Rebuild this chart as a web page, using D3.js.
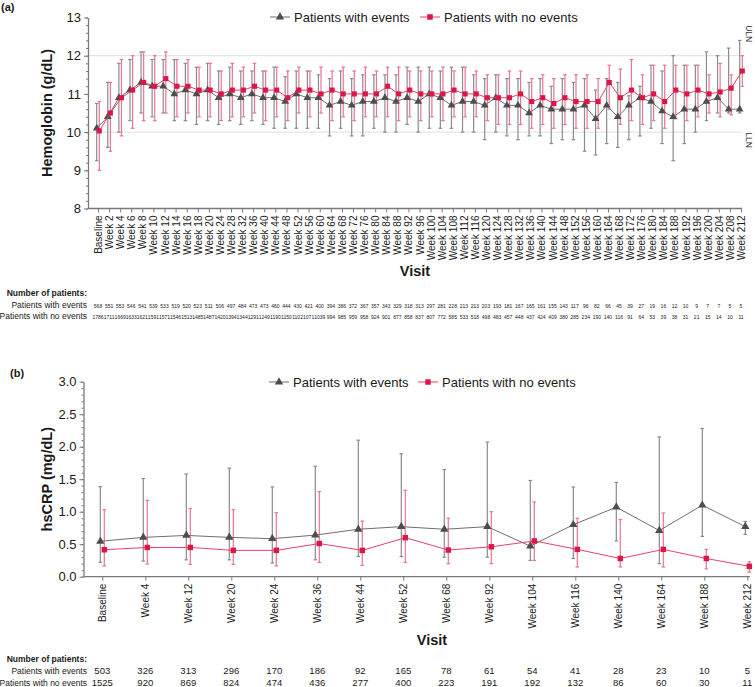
<!DOCTYPE html>
<html><head><meta charset="utf-8">
<script src="https://cdn.jsdelivr.net/npm/d3@7"></script>
<style>body{margin:0;background:#fff}svg{font-family:Arial,"Liberation Sans",sans-serif}</style>
</head><body><svg id="c" width="755" height="687"></svg>
<script>
// ---------- Panel (a): Hemoglobin ----------
const catsA = ["Baseline","Week 2","Week 4","Week 6","Week 8","Week 10","Week 12","Week 14","Week 16","Week 18","Week 20",
 "Week 24","Week 28","Week 32","Week 36","Week 40","Week 44","Week 48","Week 52","Week 56","Week 60","Week 64","Week 68",
 "Week 72","Week 76","Week 80","Week 84","Week 88","Week 92","Week 96","Week 100","Week 104","Week 108","Week 112","Week 116",
 "Week 120","Week 124","Week 128","Week 132","Week 136","Week 140","Week 144","Week 148","Week 152","Week 156","Week 160",
 "Week 164","Week 168","Week 172","Week 176","Week 180","Week 184","Week 188","Week 192","Week 196","Week 200","Week 204",
 "Week 208","Week 212"];
const hbEventsMean = [10.1,10.4,10.9,11.1,11.3,11.2,11.2,11.0,11.1,11.0,11.1,10.9,11.0,10.9,11.0,10.9,10.9,10.8,11.0,10.9,10.9,10.7,10.8,10.7,10.8,10.8,10.9,10.8,10.9,10.8,11.0,10.9,10.7,10.8,10.8,10.7,10.9,10.7,10.7,10.5,10.7,10.6,10.6,10.6,10.7,10.35,10.7,10.4,10.7,10.9,10.8,10.55,10.4,10.6,10.6,10.8,10.9,10.6,10.6];
const hbEventsHi = [10.75,11.3,11.8,11.9,12.1,11.9,11.9,11.9,11.8,11.7,11.8,11.6,11.7,11.6,11.6,11.6,11.7,11.45,11.6,11.6,11.5,11.4,11.6,11.4,11.5,11.5,11.5,11.5,11.7,11.7,11.7,11.6,11.7,11.7,11.5,11.4,11.5,11.4,11.4,11.3,11.4,11.2,11.4,11.3,11.4,11.1,11.4,11.3,10.95,11.2,11.75,11.6,12.0,11.75,11.75,12.1,12.0,12.2,12.4];
const hbEventsLo = [9.25,9.6,10.0,10.3,10.5,10.4,10.5,10.3,10.3,10.2,10.3,10.2,10.3,10.2,10.3,10.2,10.1,10.1,10.1,10.1,10.1,9.9,10.1,9.9,9.9,10.1,10.0,10.0,10.2,10.0,10.1,10.1,10.1,10.0,10.0,9.8,10.0,9.9,9.8,9.9,9.9,9.7,9.8,9.8,9.5,9.4,9.7,9.6,9.8,9.9,10.1,9.7,9.25,9.7,10.0,10.3,10.5,10.5,10.5];
const hbNoEventsMean = [10.03,10.5,10.9,11.1,11.3,11.2,11.4,11.2,11.2,11.1,11.1,11.0,11.1,11.1,11.2,11.1,11.1,10.9,11.1,11.1,11.0,11.1,11.0,11.0,11.0,11.0,11.2,11.0,11.1,11.0,11.0,11.0,11.1,11.0,11.0,10.9,10.9,10.9,11.0,10.8,10.9,10.75,10.9,10.8,10.8,10.8,11.3,10.9,11.1,10.9,11.0,10.8,11.1,11.0,11.1,11.0,11.05,11.15,11.6];
const hbNoEventsHi = [10.8,11.3,11.9,12.0,12.1,12.0,12.1,11.9,11.9,11.7,11.8,11.6,11.8,11.7,11.8,11.6,11.7,11.6,11.7,11.6,11.7,11.6,11.7,11.6,11.7,11.6,11.7,11.7,11.6,11.6,11.6,11.7,11.6,11.7,11.6,11.5,11.5,11.6,11.6,11.4,11.5,11.4,11.5,11.5,11.5,11.4,11.75,11.65,11.9,11.5,11.75,11.75,11.75,11.75,11.75,11.5,11.8,11.5,12.0];
const hbNoEventsLo = [9.0,9.5,9.9,10.1,10.3,10.3,10.5,10.4,10.5,10.4,10.4,10.3,10.4,10.4,10.5,10.3,10.4,10.3,10.5,10.4,10.5,10.3,10.4,10.3,10.4,10.4,10.4,10.3,10.4,10.3,10.4,10.3,10.4,10.4,10.4,10.3,10.2,10.2,10.2,10.1,10.2,10.1,10.2,10.1,10.1,10.1,10.6,10.2,10.3,10.2,10.3,10.1,10.35,10.3,10.4,10.5,10.4,10.45,11.2];
const nEventsA = [568,551,553,546,541,539,533,519,520,523,511,506,497,484,473,473,460,444,430,421,400,394,386,372,367,357,343,329,318,313,297,281,228,213,213,203,193,181,167,165,161,155,143,117,96,82,66,45,39,27,19,16,12,10,9,7,7,5,5];
const nNoEventsA = [1786,1711,1669,1633,1621,1591,1571,1546,1513,1485,1487,1420,1394,1344,1291,1249,1190,1150,1102,1071,1039,994,985,959,958,924,901,877,858,837,807,772,585,533,518,498,483,457,448,437,424,409,380,285,234,190,140,116,91,64,53,39,38,31,21,15,14,10,11];
const yTicksA = [8,9,10,11,12,13];
const refValuesA = [12,10];
const refLabelsA = ["ULN","LLN"];

// ---------- Panel (b): hsCRP ----------
const catsB = ["Baseline","Week 4","Week 12","Week 20","Week 24","Week 36","Week 44","Week 52","Week 68","Week 92","Week 104","Week 116","Week 140","Week 164","Week 188","Week 212"];
const crpEventsMean = [0.545,0.605,0.635,0.605,0.585,0.64,0.73,0.77,0.73,0.77,0.47,0.8,1.07,0.71,1.1,0.77];
const crpEventsHi = [1.385,1.51,1.58,1.67,1.38,1.70,2.10,1.89,1.65,2.07,1.48,1.38,1.45,2.15,2.28,0.85];
const crpEventsLo = [0.22,0.24,0.26,0.26,0.21,0.26,0.31,0.31,0.30,0.30,0.25,0.28,0.55,0.20,0.62,0.65];
const crpNoEventsMean = [0.415,0.45,0.45,0.405,0.405,0.51,0.405,0.60,0.41,0.46,0.55,0.42,0.28,0.42,0.28,0.16];
const crpNoEventsHi = [1.03,1.175,1.05,1.03,0.985,1.31,0.855,1.33,0.90,1.0,1.15,0.90,0.88,0.98,0.42,0.23];
const crpNoEventsLo = [0.165,0.195,0.19,0.19,0.165,0.22,0.175,0.22,0.20,0.20,0.25,0.15,0.15,0.15,0.12,0.07];
const nEventsB = [503,326,313,296,170,186,92,165,78,61,54,41,28,23,10,5];
const nNoEventsB = [1525,920,869,824,474,436,277,400,223,191,192,132,86,60,30,11];
const yTicksB = [0,0.5,1.0,1.5,2.0,2.5,3.0];

const seriesNames = ["Patients with events","Patients with no events"];
const rowTitle = "Number of patients:";

// ---------- styles ----------
const GRAY_LINE = "#6f6f6f", GRAY_MARK = "#4d4d4d", GRAY_BAR = "#8c8c8c";
const RED_LINE = "#e8416a", RED_MARK = "#dc1748", RED_BAR = "#eb7494";
const AXIS = "#7a7a7a", TXT = "#1a1a1a";

const svg = d3.select("#c");

function drawPanel(o) {
  const g = svg.append("g");
  const x = d3.scalePoint().domain(o.cats).range(o.xRange);
  const y = d3.scaleLinear().domain(o.yDomain).range(o.yRange);
  const x0 = o.axisX, x1 = o.axisEnd;

  // reference lines
  if (o.refs) {
    o.refs.forEach((v, i) => {
      g.append("line").attr("x1", x0).attr("x2", x1).attr("y1", y(v)).attr("y2", y(v))
        .attr("stroke", "#dedede").attr("stroke-width", 1);
      g.append("text").attr("transform", `translate(${o.refLabelX},${y(v) + (i === 0 ? -22 : 8)}) rotate(90)`)
        .attr("font-size", 8.5).attr("fill", "#333").attr("text-anchor", "middle").text(o.refLabels[i]);
    });
  }

  // y axis minor ticks
  const minor = d3.range(o.yDomain[0], o.yDomain[1] + 1e-9, o.minorStep);
  g.append("g").attr("transform", `translate(${x0},0)`)
    .call(d3.axisLeft(y).tickValues(minor).tickSize(2).tickFormat(""))
    .call(s => s.select(".domain").remove())
    .call(s => s.selectAll("line").attr("stroke", AXIS));
  // y axis major
  g.append("g").attr("transform", `translate(${x0},0)`)
    .call(d3.axisLeft(y).tickValues(o.yTicks).tickSize(4).tickSizeOuter(0).tickFormat(o.yFmt))
    .call(s => s.select(".domain").attr("stroke", AXIS).attr("stroke-width", 1.3))
    .call(s => s.selectAll("line").attr("stroke", AXIS))
    .call(s => s.selectAll("text").attr("font-size", 13).attr("fill", TXT).attr("font-family", "Arial, Liberation Sans"));

  // x axis
  const ya = o.yRange[0];
  g.append("line").attr("x1", x0).attr("x2", x1).attr("y1", ya).attr("y2", ya)
    .attr("stroke", AXIS).attr("stroke-width", 1.3);
  g.append("g").attr("transform", `translate(0,${ya})`)
    .call(d3.axisBottom(x).tickSize(4).tickSizeOuter(0))
    .call(s => s.select(".domain").remove())
    .call(s => s.selectAll("line").attr("stroke", AXIS))
    .call(s => s.selectAll("text").attr("font-size", o.xFont).attr("fill", TXT)
      .attr("font-family", "Arial, Liberation Sans")
      .attr("transform", "rotate(-90)").attr("x", -7).attr("y", 0).attr("dy", "0.35em")
      .style("text-anchor", "end"));

  // series
  const ser = [
    {mean: o.evMean, hi: o.evHi, lo: o.evLo, dx: -o.off, line: GRAY_LINE, mark: GRAY_MARK, bar: GRAY_BAR, sym: d3.symbolTriangle},
    {mean: o.noMean, hi: o.noHi, lo: o.noLo, dx: o.off, line: RED_LINE, mark: RED_MARK, bar: RED_BAR, sym: d3.symbolSquare}
  ];
  ser.forEach(s => {
    const data = o.cats.map((c, i) => ({c, m: s.mean[i], hi: s.hi[i], lo: s.lo[i]}));
    const eb = g.append("g");
    data.forEach(d => {
      const xx = x(d.c) + s.dx;
      eb.append("line").attr("x1", xx).attr("x2", xx).attr("y1", y(d.lo)).attr("y2", y(d.hi))
        .attr("stroke", s.bar).attr("stroke-width", 1.2);
      [d.lo, d.hi].forEach(v => eb.append("line").attr("x1", xx - 1.8).attr("x2", xx + 1.8)
        .attr("y1", y(v)).attr("y2", y(v)).attr("stroke", s.bar).attr("stroke-width", 1.2));
    });
  });
  ser.forEach(s => {
    const data = o.cats.map((c, i) => ({c, m: s.mean[i]}));
    g.append("path").datum(data).attr("fill", "none").attr("stroke", s.line).attr("stroke-width", 1)
      .attr("d", d3.line().x(d => x(d.c) + s.dx).y(d => y(d.m)));
    g.selectAll(null).data(data).enter().append("path")
      .attr("transform", d => `translate(${x(d.c) + s.dx},${y(d.m)})`)
      .attr("d", d3.symbol(s.sym, o.symSize)).attr("fill", s.mark);
  });

  // legend
  const lg = g.append("g");
  o.legend.forEach((L, i) => {
    const s = ser[i];
    lg.append("line").attr("x1", L[0]).attr("x2", L[0] + 20).attr("y1", o.legendY).attr("y2", o.legendY)
      .attr("stroke", s.line).attr("stroke-width", 1);
    lg.append("path").attr("transform", `translate(${L[0] + 10},${o.legendY})`)
      .attr("d", d3.symbol(s.sym, 30)).attr("fill", s.mark);
    lg.append("text").attr("x", L[0] + 24).attr("y", o.legendY).attr("dy", "0.35em")
      .attr("font-size", 13).attr("fill", TXT).text(seriesNames[i]);
  });

  // titles
  g.append("text").attr("transform", `translate(${o.yTitleX},${(o.yRange[0] + o.yRange[1]) / 2}) rotate(-90)`)
    .attr("text-anchor", "middle").attr("font-size", 14.5).attr("font-weight", "bold").attr("fill", TXT).text(o.yTitle);
  g.append("text").attr("x", o.visitX).attr("y", o.visitY).attr("text-anchor", "middle")
    .attr("font-size", 14.5).attr("font-weight", "bold").attr("fill", TXT).text("Visit");
  g.append("text").attr("x", o.tagX).attr("y", o.tagY).attr("font-size", 11).attr("font-weight", "bold")
    .attr("fill", TXT).text(o.tag);

  // patient numbers
  g.append("text").attr("x", o.rowLabelX).attr("y", o.rowY[0]).attr("text-anchor", "end")
    .attr("font-size", o.rowFont).attr("font-weight", "bold").attr("fill", TXT).text(rowTitle);
  [o.nEv, o.nNo].forEach((arr, r) => {
    g.append("text").attr("x", o.rowLabelX).attr("y", o.rowY[r + 1]).attr("text-anchor", "end")
      .attr("font-size", o.rowFont).attr("fill", TXT).text(seriesNames[r]);
    g.selectAll(null).data(arr).enter().append("text")
      .attr("x", (d, i) => x(o.cats[i])).attr("y", o.rowY[r + 1]).attr("text-anchor", "middle")
      .attr("font-size", o.numFont).attr("fill", TXT).text(d => d);
  });
}

drawPanel({
  cats: catsA, xRange: [98, 741], yDomain: [8, 13], yRange: [208.5, 17.5],
  axisX: 88, axisEnd: 742, yTicks: yTicksA, minorStep: 0.2, yFmt: d3.format("d"),
  refs: refValuesA, refLabels: refLabelsA, refLabelX: 746,
  xFont: 10, off: 1.3, symSize: 26,
  evMean: hbEventsMean, evHi: hbEventsHi, evLo: hbEventsLo,
  noMean: hbNoEventsMean, noHi: hbNoEventsHi, noLo: hbNoEventsLo,
  legend: [[270], [420]], legendY: 17,
  yTitle: "Hemoglobin (g/dL)", yTitleX: 52, visitX: 415, visitY: 276, tag: "(a)", tagX: 1, tagY: 11,
  rowLabelX: 87, rowY: [296, 307.5, 319], rowFont: 8.5, numFont: 5,
  nEv: nEventsA, nNo: nNoEventsA
});

drawPanel({
  cats: catsB, xRange: [102.3, 747.3], yDomain: [0, 3], yRange: [576.7, 381.7],
  axisX: 83.5, axisEnd: 750, yTicks: yTicksB, minorStep: 0.1, yFmt: d3.format(".1f"),
  refs: null,
  xFont: 10, off: 2, symSize: 30,
  evMean: crpEventsMean, evHi: crpEventsHi, evLo: crpEventsLo,
  noMean: crpNoEventsMean, noHi: crpNoEventsHi, noLo: crpNoEventsLo,
  legend: [[269], [418]], legendY: 382,
  yTitle: "hsCRP (mg/dL)", yTitleX: 52, visitX: 432, visitY: 645, tag: "(b)", tagX: 10, tagY: 377,
  rowLabelX: 87, rowY: [662, 674, 686], rowFont: 8.5, numFont: 9.5,
  nEv: nEventsB, nNo: nNoEventsB
});
</script></body></html>
